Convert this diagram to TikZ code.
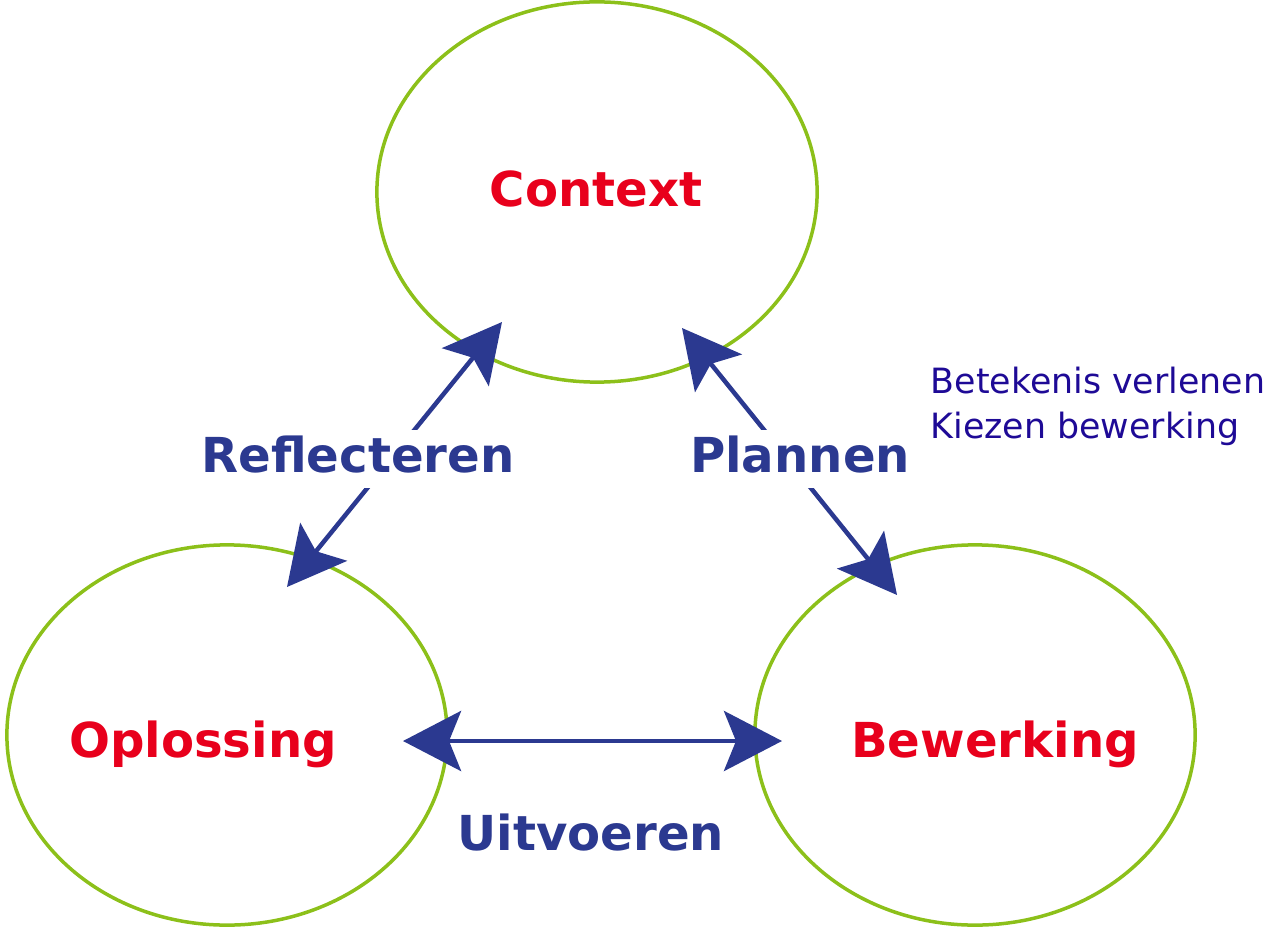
\documentclass[tikz,border=0pt]{standalone}
\usepackage{fontspec}
\usetikzlibrary{arrows.meta,shapes.geometric}
\newfontfamily\diafont{DejaVu Sans}
\definecolor{ringgreen}{RGB}{140,192,26}
\definecolor{linkblue}{RGB}{43,57,144}
\definecolor{partred}{RGB}{232,0,28}
\definecolor{notepurple}{RGB}{30,10,150}

\begin{document}
\begin{tikzpicture}[x = 0.01cm, y = -0.01cm,
  ring/.style = {draw = ringgreen, line width = 0.035cm, ellipse, minimum width = 4.4cm, minimum height = 3.8cm, inner sep = 0pt},
  partname/.style = {text = partred, font = \diafont\bfseries\fontsize{13.7pt}{16pt}\selectfont, anchor = base, inner sep = 0pt},
  act/.style = {text = linkblue, font = \diafont\bfseries\fontsize{13.7pt}{16pt}\selectfont, anchor = base, fill = white, text height = 0.36cm, text depth = 0.1cm, inner sep = 0.06cm},
  link/.style = {draw = linkblue, line width = 0.045cm, {Stealth[length = 0.58cm, width = 0.6cm, inset = 0.12cm]}-{Stealth[length = 0.58cm, width = 0.6cm, inset = 0.12cm]}}
]
\useasboundingbox (0, 0) rectangle (1271, 928);

% the three circles
\node[ring] (context) at (597, 192) {};
\node[ring] (oplossing) at (227, 735) {};
\node[ring] (bewerking) at (975, 735) {};

\node[partname] (contextlbl) at (596, 207) {Context};
\node[partname] (oplossinglbl) at (203, 757) {Oplossing};
\node[partname] (bewerkinglbl) at (995, 757) {Bewerking};

% arrow tips
\coordinate (reflA) at (502, 322);
\coordinate (reflB) at (287, 587);
\coordinate (planA) at (682, 328);
\coordinate (planB) at (897, 595);
\coordinate (uitA) at (403, 741);
\coordinate (uitB) at (782, 741);

\draw[link] (reflA) -- (reflB);
\draw[link] (planA) -- (planB);
\draw[link] (uitA) -- (uitB);

\node[act] (refl) at (358, 472) {Reflecteren};
\node[act] (plan) at (800, 472) {Plannen};
\node[act, fill = none] (uit) at (591, 850) {Uitvoeren};

\node[text = notepurple, font = \diafont\fontsize{9.9pt}{12.8pt}\selectfont, align = left, anchor = north west, inner sep = 0pt] (note) at (930, 366) {Betekenis verlenen\\Kiezen bewerking};

\end{tikzpicture}
\end{document}
